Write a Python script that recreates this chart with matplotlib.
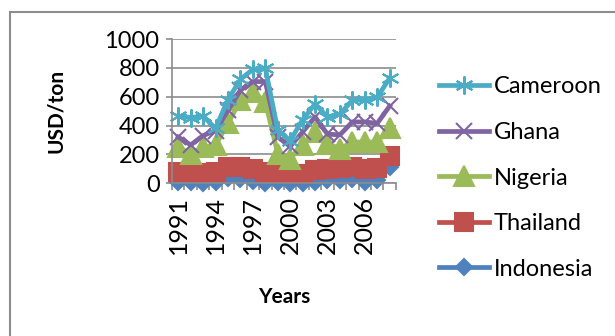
import numpy as np
import matplotlib.pyplot as plt
from matplotlib.patches import Rectangle

plt.rcParams['font.family'] = ['Lato', 'DejaVu Sans']

# Prices by year (USD/ton)
years = np.arange(1991, 2009)
indonesia = [5, 5, 0, 10, 35, 30, 15, 0, 5, 0, 0, 10, 20, 25, 30, 10, 25, 110]
thailand = [80, 80, 70, 80, 110, 110, 100, 75, 70, 60, 60, 90, 100, 105, 115, 100, 105, 185]
nigeria = [250, 205, 250, 265, 415, 575, 635, 565, 205, 170, 265, 355, 275, 240, 285, 285, 285, 380]
ghana = [320, 265, 330, 365, 505, 645, 705, 705, 320, 255, 355, 460, 340, 335, 425, 425, 415, 535]
cameroon = [465, 455, 465, 380, 580, 720, 790, 800, 370, 295, 440, 550, 460, 480, 575, 580, 595, 730]

series = [
    ("Indonesia", indonesia, "#4F81BD", "D", 8),
    ("Thailand", thailand, "#C0504D", "s", 13),
    ("Nigeria", nigeria, "#9BBB59", "^", 14),
    ("Ghana", ghana, "#8064A2", "x", 12),
    ("Cameroon", cameroon, "#4BACC6", (6, 2, 0), 13),
]

fig = plt.figure(figsize=(6.15, 3.36), dpi=100)
ax = fig.add_axes([0.2797, 0.455, 0.364, 0.4286])

# outer chart frame (only left and top edges are visible)
fig.patches.append(Rectangle((10 / 615, -0.1), 1.2, (336 - 12) / 336 + 0.1,
                             transform=fig.transFigure, fill=False,
                             edgecolor="#8c8c8c", linewidth=1.5))

x = np.arange(len(years))
handles = []
for name, vals, color, marker, ms in series:
    line, = ax.plot(x, vals, color=color, linewidth=3.4, marker=marker,
                    markersize=ms, markeredgecolor=color, markerfacecolor=color,
                    markeredgewidth=1.5, solid_joinstyle="round", label=name,
                    clip_on=False)
    handles.append(line)

ax.set_xlim(-0.5, len(years) - 0.5)
ax.set_ylim(0, 1000)
ax.set_yticks(range(0, 1001, 200))
ax.yaxis.grid(True, color="#8c8c8c", linewidth=1.2)
ax.set_axisbelow(True)

ax.set_xticks(x[::3])
ax.set_xticklabels([str(y) for y in years[::3]], rotation=90)
ax.set_xticks(np.arange(-0.5, len(years)), minor=True)
ax.tick_params(axis="x", which="major", length=0, pad=9, labelsize=18)
ax.tick_params(axis="x", which="minor", length=5, width=1.2, color="#8c8c8c")
ax.tick_params(axis="y", length=4, width=1.2, color="#8c8c8c", labelsize=17, pad=5)

for side in ["top", "right"]:
    ax.spines[side].set_visible(False)
ax.spines["left"].set_color("#8c8c8c")
ax.spines["left"].set_linewidth(1.2)
ax.spines["bottom"].set_color("#8c8c8c")
ax.spines["bottom"].set_linewidth(1.2)

ax.set_ylabel("USD/ton", fontsize=15, fontweight="bold", labelpad=28)
ax.set_xlabel("Years", fontsize=15, fontweight="bold", labelpad=24)

fig.legend(handles[::-1], [h.get_label() for h in handles[::-1]],
           loc="upper left", bbox_to_anchor=(430 / 615, 1 - 67 / 336),
           frameon=False, fontsize=17, handlelength=2.1, handletextpad=0.2,
           labelspacing=1.04, borderaxespad=0)

fig.savefig("out.png", dpi=100)
